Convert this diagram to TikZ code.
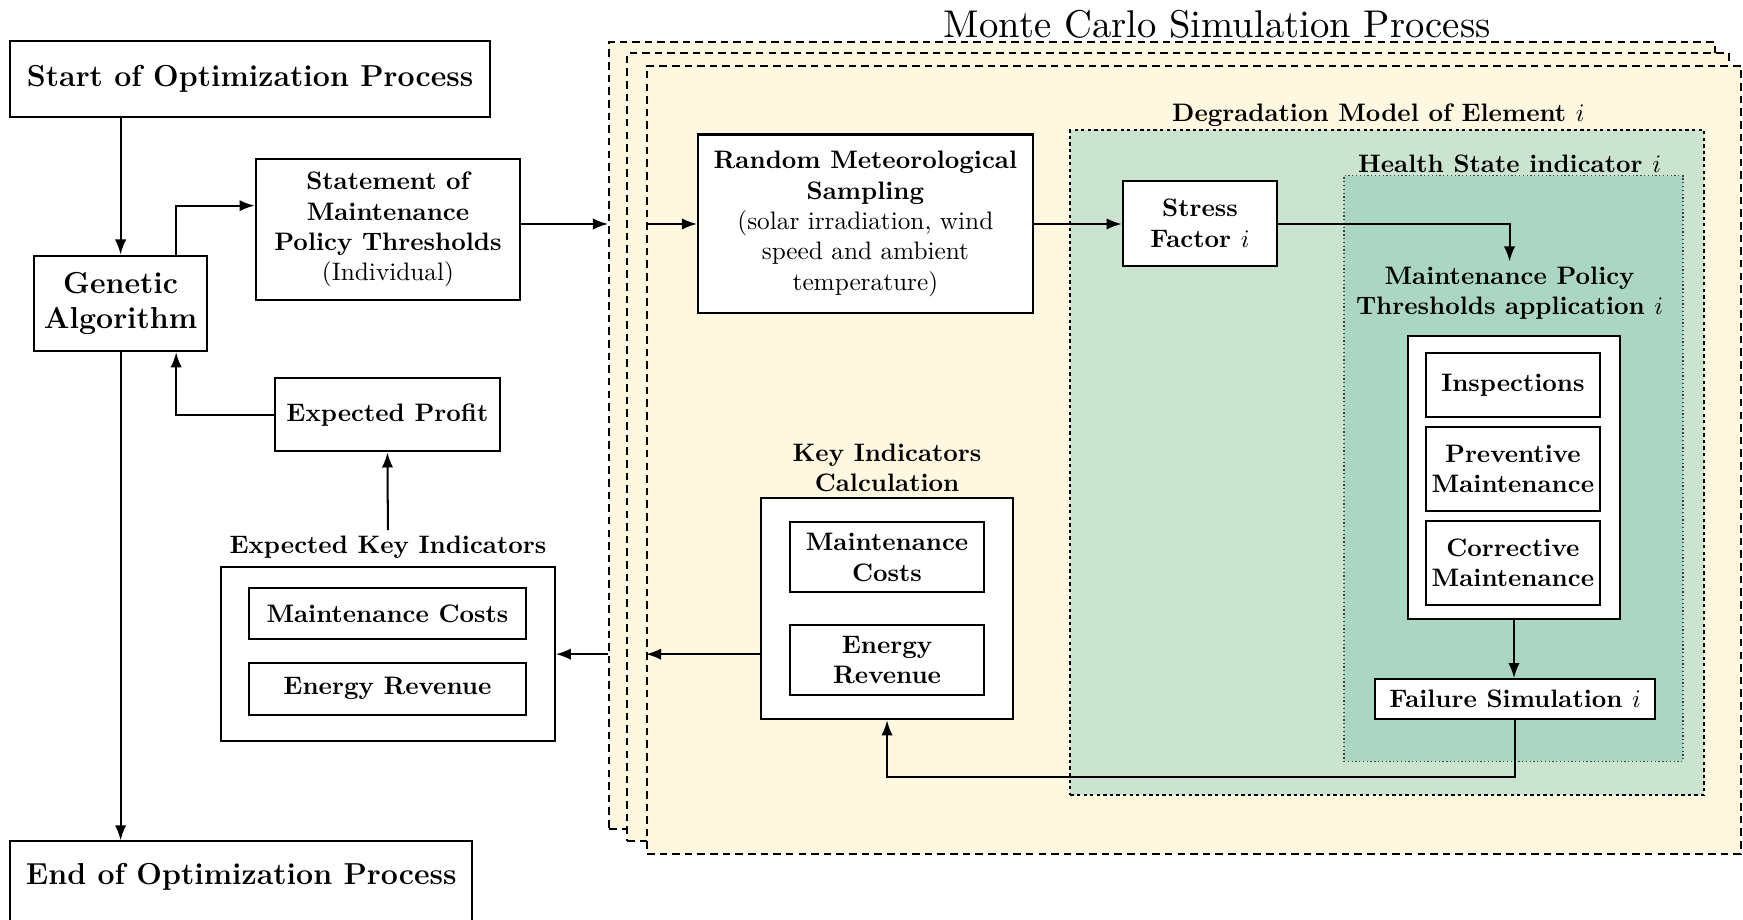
\documentclass[tikz,border=0pt]{standalone}
\usetikzlibrary{arrows.meta,fit,calc}
\newdimen\pxu \pxu=0.44pt
\definecolor{mcyellow}{RGB}{255,248,225}
\definecolor{dgreen}{RGB}{203,228,207}
\definecolor{hgreen}{RGB}{170,214,195}
\begin{document}
\begin{tikzpicture}[x=0.44pt, y=-0.44pt,
  sz/.style 2 args={minimum width=#1\pxu, minimum height=#2\pxu},
  box/.style={draw, line width=0.8pt, fill=white, inner sep=0pt, align=center, font=\bfseries},
  bigbox/.style={box, font=\large\bfseries},
  frame/.style={draw, fill=mcyellow, dash pattern=on 3pt off 2pt, line width=0.8pt, inner sep=0pt},
  degrframe/.style={draw, fill=dgreen, dash pattern=on 1.3pt off 1.3pt, line width=0.8pt, inner sep=0pt},
  healthframe/.style={draw=black!75, fill=hgreen, densely dotted, line width=0.5pt, inner sep=0pt},
  lbl/.style={align=center, font=\bfseries, inner sep=2pt},
  arr/.style={line width=0.8pt, -{Latex[length=6pt, width=4.5pt]}}]
\useasboundingbox (0,0) rectangle (1568,827);

% Monte Carlo frames
\node[frame, fit={(548,38)(1543,746)}] (frameA) {};
\node[frame, fit={(564,48)(1555,757)}] (frameB) {};
\node[frame, fit={(582,59)(1566,768)}] (frameC) {};
\node (title) at (1095,22) {\scalebox{1.53}{Monte Carlo Simulation Process}};

% Degradation model
\node[degrframe, fit={(963,117)(1533,715)}] (degr) {};
\node[lbl] (degrlbl) at (1240,104) {Degradation Model of Element $i$};
\node[healthframe, fit={(1209,158)(1514,685)}] (health) {};
\node[lbl] (healthlbl) at (1358,147) {Health State indicator $i$};

% Left side
\node[bigbox, sz={432}{68}] (start) at (225,71) {Start of Optimization Process};
\node[bigbox, sz={155}{86}] (ga) at (108.5,273) {Genetic\\Algorithm};
\node[box, sz={238}{127}] (stmt) at (349,206.5) {Statement of\\Maintenance\\Policy Thresholds\\{\mdseries (Individual)}};
\node[box, sz={203}{66}] (profit) at (348.5,373) {Expected Profit};
\node[lbl] (explbl) at (349,492) {Expected Key Indicators};
\node[box, sz={300}{157}] (expcont) at (349,588.5) {};
\node[box, sz={249}{46}] (emc) at (348.5,552) {Maintenance Costs};
\node[box, sz={249}{47}] (eer) at (348.5,619.5) {Energy Revenue};
\node[box, sz={416}{83}] (endbox) at (217,798.5) {};
\node[font=\large\bfseries] (endtxt) at (217,789) {End of Optimization Process};

% Inside Monte Carlo
\node[box, sz={301}{161}] (rand) at (778.5,201.5) {Random Meteorological\\Sampling\\{\mdseries (solar irradiation, wind}\\{\mdseries speed and ambient}\\{\mdseries temperature)}};
\node[box, sz={139}{76}] (stress) at (1079.5,201) {Stress\\Factor $i$};
\node[lbl] (policy) at (1358,264) {Maintenance Policy\\Thresholds application $i$};
\node[box, sz={190}{255}] (mcont) at (1362,429.5) {};
\node[box, sz={156}{57}] (insp) at (1361,346.5) {Inspections};
\node[box, sz={156}{76}] (prev) at (1361,422) {Preventive\\Maintenance};
\node[box, sz={156}{75}] (corr) at (1361,506.5) {Corrective\\Maintenance};
\node[box, sz={252}{36}] (fail) at (1363,629) {Failure Simulation $i$};

\node[lbl] (keylbl) at (798,421) {Key Indicators\\Calculation};
\node[box, sz={226}{199}] (keycont) at (798,547.5) {};
\node[box, sz={174}{63}] (kmc) at (798,501.5) {Maintenance\\Costs};
\node[box, sz={174}{63}] (ker) at (798,593.5) {Energy\\Revenue};

% Connectors
\draw[arr] (start.south -| ga.north) -- (ga.north);
\draw[arr] ([xshift=50\pxu]ga.north) |- ([yshift=21.5\pxu]stmt.west);
\draw[arr] (stmt.east |- rand.west) -- (frameA.west |- rand.west);
\draw[arr] (frameC.west |- rand.west) -- (rand.west);
\draw[arr] (rand.east) -- (stress.west |- rand.east);
\draw[arr] (stress.east |- rand.east) -| (policy.north);
\draw[arr] (mcont.south) -- (fail.north -| mcont.south);
\draw[arr] (fail.south) -- ++(0,51) -| (keycont.south);
\draw[arr] (keycont.west |- expcont.east) -- (frameC.west |- expcont.east);
\draw[arr] (frameA.west |- expcont.east) -- (expcont.east);
\draw[arr] (explbl.north) -- (profit.south);
\draw[arr] (profit.west) -| ([xshift=50\pxu]ga.south);
\draw[arr] (ga.south) -- (ga.south |- endbox.north);
\end{tikzpicture}
\end{document}
